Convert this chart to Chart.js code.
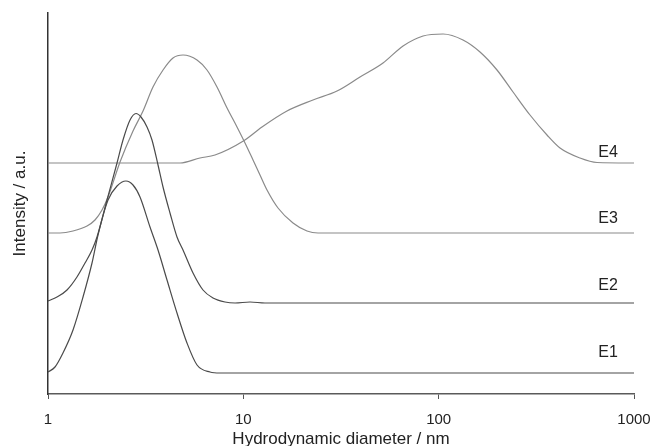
<!DOCTYPE html>
<html>
<head>
<meta charset="utf-8">
<script src="https://cdn.jsdelivr.net/npm/chart.js@4/dist/chart.umd.min.js"></script>
<style>
  html, body { margin: 0; padding: 0; background: #ffffff; }
  #wrap { width: 652px; height: 446px; position: relative; }
</style>
</head>
<body>
<div id="wrap"><canvas id="c"></canvas></div>
<script>
// ---- Data (x: hydrodynamic diameter in nm, y: intensity in a.u., curves offset vertically) ----
const seriesNames = ["E1", "E2", "E3", "E4"];

const e1x = [1, 1.086, 1.193, 1.343, 1.511, 1.680, 1.803, 2.029, 2.256, 2.507, 2.724, 2.958, 3.328, 3.658, 4.067, 4.575, 5.147, 5.793, 6.751, 7.596, 9.615, 1000];
const e1y = [22, 27, 41, 64, 97, 131, 159, 194, 208, 213, 209, 197, 167, 144, 114, 81, 51, 29, 22, 21, 21, 21];

const e2x = [1, 1.112, 1.251, 1.407, 1.547, 1.680, 1.782, 2.005, 2.256, 2.421, 2.630, 2.822, 2.993, 3.213, 3.407, 3.658, 3.880, 4.213, 4.575, 4.911, 5.526, 6.216, 6.994, 8.056, 9.066, 10.82, 12.91, 1000];
const e2y = [93, 97, 104, 117, 131, 144, 157, 194, 231, 254, 274, 280.5, 277, 267, 254, 229, 207, 181, 157, 144, 121, 104, 96, 92, 91, 92, 91, 91];

const e3x = [1, 1.152, 1.343, 1.584, 1.740, 1.890, 2.029, 2.337, 2.724, 3.065, 3.447, 3.880, 4.364, 4.911, 5.793, 6.516, 7.332, 8.254, 9.282, 10.2, 11.21, 12.17, 13.22, 15.05, 17.96, 21.18, 24.12, 1000];
const e3y = [161, 161, 163, 168, 174, 184, 197, 232, 263, 283, 307, 324, 336, 339, 334, 324, 307, 286, 267, 251, 234, 219, 204, 186, 171, 163, 161, 161];

const e4x = [1, 4.740, 6.0, 7.161, 10, 12.46, 16.73, 22.73, 30.17, 39.56, 51.9, 65.7, 83.2, 105.3, 133.2, 162.8, 198.9, 240.3, 293.5, 358.6, 418, 529.2, 646.7, 1000];
const e4y = [231, 231, 236, 239, 253, 267, 283, 294, 303, 317, 331, 348, 358, 360, 354, 342, 324, 302, 279, 259, 246, 236, 231.5, 231];

const xTickValues = [1, 10, 100, 1000];
const xTickLabels = ["1", "10", "100", "1000"];

// series label anchors (data coordinates)
const labelX = [736, 736, 736, 736];
const labelY = [37, 104, 171, 237];

const seriesX = [e1x, e2x, e3x, e4x];
const seriesY = [e1y, e2y, e3y, e4y];
const seriesColors = ["#4a4a4a", "#4a4a4a", "#8a8a8a", "#8a8a8a"];

const datasets = seriesNames.map((name, k) => ({
  label: name,
  data: seriesX[k].map((x, i) => ({ x: x, y: seriesY[k][i] })),
  borderColor: seriesColors[k],
  borderWidth: 1.2,
  pointRadius: 0,
  fill: false,
  cubicInterpolationMode: 'monotone'
}));

const seriesLabelPlugin = {
  id: 'seriesLabels',
  afterDatasetsDraw(chart) {
    const ctx = chart.ctx;
    const xs = chart.scales.x, ys = chart.scales.y;
    ctx.save();
    ctx.font = '16px "Liberation Sans", Arial, sans-serif';
    ctx.fillStyle = '#222222';
    ctx.textAlign = 'center';
    ctx.textBaseline = 'alphabetic';
    seriesNames.forEach((name, k) => {
      ctx.fillText(name, xs.getPixelForValue(labelX[k]), ys.getPixelForValue(labelY[k]));
    });
    ctx.restore();
  }
};

Chart.defaults.font.family = '"Liberation Sans", Arial, sans-serif';
Chart.defaults.color = '#222222';

new Chart(document.getElementById('c'), {
  type: 'line',
  data: { datasets: datasets },
  options: {
    responsive: true,
    maintainAspectRatio: false,
    animation: false,
    layout: { padding: { top: 13, right: 18, left: 0, bottom: 0 } },
    plugins: { legend: { display: false }, tooltip: { enabled: false } },
    scales: {
      x: {
        type: 'logarithmic',
        min: 1,
        max: 1000,
        afterBuildTicks: (scale) => { scale.ticks = xTickValues.map(v => ({ value: v })); },
        afterFit: (scale) => { scale.height = 52; scale.paddingLeft = 0; scale.paddingRight = 0; },
        ticks: {
          autoSkip: false,
          maxRotation: 0,
          padding: 12,
          font: { size: 15 },
          color: '#222222',
          callback: (value) => { const i = xTickValues.indexOf(value); return i >= 0 ? xTickLabels[i] : ''; }
        },
        grid: { display: true, drawOnChartArea: false, drawTicks: true, tickLength: 5, tickColor: '#555555', lineWidth: 1 },
        border: { display: true, color: '#5a5a5a', width: 1.5 },
        title: { display: true, text: 'Hydrodynamic diameter / nm', font: { size: 17, lineHeight: 0.8 }, color: '#222222', padding: { top: 0, bottom: 0 } }
      },
      y: {
        type: 'linear',
        min: 0,
        max: 381,
        afterFit: (scale) => { scale.width = 48; },
        ticks: { display: false },
        grid: { display: true, drawOnChartArea: false, drawTicks: false },
        border: { display: true, color: '#333333', width: 1.5 },
        title: { display: true, text: 'Intensity / a.u.', font: { size: 17, lineHeight: 1 }, color: '#222222', padding: { top: 12, bottom: 0 } }
      }
    }
  },
  plugins: [seriesLabelPlugin]
});
</script>
</body>
</html>
